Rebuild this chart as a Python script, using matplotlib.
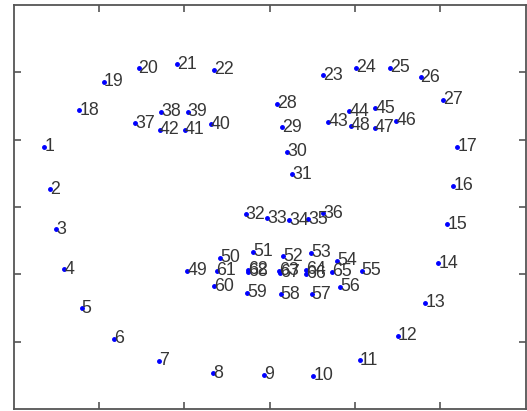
import matplotlib
matplotlib.use("Agg")
import matplotlib.pyplot as plt

# 68-point facial landmark coordinates (image-style axes, y grows downward)
landmark_x = [
    7.2, 8.6, 10.0, 11.9, 16.0, 23.6, 34.1, 46.7, 58.8, 70.3,
    81.2, 90.1, 96.5, 99.6, 101.7, 103.1, 104.0,
    15.4, 21.1, 29.3, 38.3, 47.1,
    72.5, 80.2, 88.2, 95.4, 100.6,
    61.7, 62.9, 64.2, 65.3,
    54.4, 59.5, 64.6, 69.1, 72.6,
    28.5, 34.6, 40.8, 46.2, 40.2, 34.3,
    73.8, 78.7, 84.8, 89.7, 84.7, 79.0,
    40.7, 48.4, 56.1, 63.2, 69.7, 75.9, 81.6, 76.5, 69.9, 62.6, 54.8, 47.1,
    47.6, 55.0, 62.3, 68.6, 74.6, 68.6, 62.5, 55.0,
]
landmark_y = [
    42.1, 54.7, 66.6, 78.5, 90.1, 99.2, 105.7, 109.4, 109.9, 110.1,
    105.5, 98.2, 88.4, 76.7, 65.1, 53.7, 42.1,
    31.2, 22.8, 18.8, 17.6, 19.3,
    20.8, 18.6, 18.6, 21.5, 28.2,
    29.4, 36.3, 43.6, 50.3,
    62.1, 63.4, 63.9, 63.6, 61.9,
    35.1, 31.7, 31.7, 35.4, 37.1, 37.1,
    34.7, 31.5, 30.7, 34.4, 36.5, 35.9,
    78.9, 75.1, 73.3, 74.6, 73.6, 76.0, 78.9, 83.7, 85.9, 85.9, 85.5, 83.5,
    78.9, 78.6, 78.9, 78.7, 79.2, 79.8, 79.6, 79.2,
]
landmark_labels = [str(i) for i in range(1, len(landmark_x) + 1)]

x_limits = (0, 120)
y_limits = (0, 120)
x_ticks = [20, 40, 60, 80, 100]
y_ticks = [20, 40, 60, 80, 100]

W, H = 527, 411
fig = plt.figure(figsize=(W / 100, H / 100), dpi=100)
ax = fig.add_axes([13.5 / W, 2 / H, 512 / W, 404 / H])

ax.plot(landmark_x, landmark_y, linestyle="none", marker=".",
        markersize=5, color="#0000ff", zorder=3)

for x, y, lab in zip(landmark_x, landmark_y, landmark_labels):
    ax.text(x, y, lab, ha="left", va="center",
            fontsize=12.8, color="#363636", family="Liberation Sans")

ax.set_xlim(*x_limits)
ax.set_ylim(*y_limits)
ax.invert_yaxis()
ax.set_xticks(x_ticks)
ax.set_yticks(y_ticks)
ax.set_xticklabels([])
ax.set_yticklabels([])
ax.tick_params(direction="in", length=5, width=1.2, color="#555555",
               top=True, right=True)
for spine in ax.spines.values():
    spine.set_color("#555555")
    spine.set_linewidth(1.3)

fig.savefig("out.png", dpi=100)
